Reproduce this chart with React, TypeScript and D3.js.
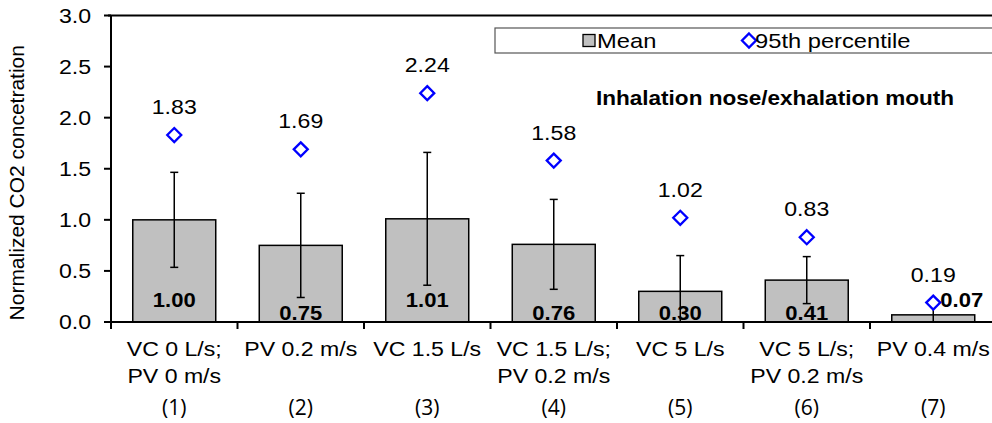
import React from "react";
import * as d3 from "d3";

const categoriesLine1 = ["VC 0 L/s;", "PV 0.2 m/s", "VC 1.5 L/s", "VC 1.5 L/s;", "VC 5 L/s", "VC 5 L/s;", "PV 0.4 m/s"];
const categoriesLine2 = ["PV 0 m/s", "", "", "PV 0.2 m/s", "", "PV 0.2 m/s", ""];
const caseNumbers = ["(1)", "(2)", "(3)", "(4)", "(5)", "(6)", "(7)"];
const meanValues = [1.0, 0.75, 1.01, 0.76, 0.3, 0.41, 0.07];
const errorValues = [0.465, 0.51, 0.65, 0.44, 0.35, 0.23, 0.12];
const p95Values = [1.83, 1.69, 2.24, 1.58, 1.02, 0.83, 0.19];
const yTicks = [0, 0.5, 1.0, 1.5, 2.0, 2.5, 3.0];
const legendLabels = ["Mean", "95th percentile"];
const subtitle = "Inhalation nose/exhalation mouth";
const yTitle = "Normalized CO2 concetration";

const W = 992;
const H = 423;
const FONT = "'Liberation Sans', Arial, sans-serif";
const FS = 21;
const SX = 1.1;

function T(props: any) {
  const { x, y, sx = SX, children, ...rest } = props;
  return (
    <text transform={`translate(${x},${y}) scale(${sx},1)`} {...rest}>
      {children}
    </text>
  );
}

export default function App() {
  const left = 111;
  const top = 15.5;
  const bottom = 322;
  const step = 126.5;
  const n = categoriesLine1.length;
  const x = d3
    .scaleBand<number>()
    .domain(d3.range(n))
    .range([left, left + n * step])
    .paddingInner(0.344)
    .paddingOuter(0.172);
  const y = d3.scaleLinear().domain([0, 3]).range([bottom, top]);
  const bw = x.bandwidth();
  const cx = (i: number) => (x(i) as number) + bw / 2;
  const dsz = 7;
  const diamond = (px: number, py: number) =>
    `M${px},${py - dsz} L${px + dsz},${py} L${px},${py + dsz} L${px - dsz},${py} Z`;

  return (
    <svg width={W} height={H} style={{ position: "absolute", left: 0, top: 0, background: "#fff" }} fontFamily={FONT}>
      <rect x={0} y={0} width={W} height={H} fill="#fff" />
      <defs>
        <clipPath id="plotclip">
          <rect x={left} y={0} width={W} height={bottom - 1} />
        </clipPath>
      </defs>
      {/* legend box */}
      <rect x={495} y={28} width={520} height={25} fill="#fff" stroke="#555" strokeWidth={1.2} />
      <rect x={583} y={34.5} width={12} height={12} fill="#C0C0C0" stroke="#000" strokeWidth={1.3} />
      <T x={597} y={48} fontSize={FS} sx={1.13}>{legendLabels[0]}</T>
      <path d={diamond(749, 40.5)} fill="none" stroke="#0000FF" strokeWidth={2.3} />
      <T x={755} y={48} fontSize={FS} sx={1.13}>{legendLabels[1]}</T>
      <T x={775} y={105} fontSize={20.5} sx={1.1} fontWeight="bold" textAnchor="middle">{subtitle}</T>

      {/* bars */}
      {meanValues.map((v, i) => (
        <rect key={"b" + i} x={x(i)} y={y(v)} width={bw} height={y(0) - y(v)} fill="#C0C0C0" stroke="#000" strokeWidth={1.5} />
      ))}
      {/* mean labels */}
      <g clipPath="url(#plotclip)">
        {meanValues.map((v, i) => {
          const last = i === n - 1;
          const ty = last ? y(0) - 15 : v >= 0.9 ? y(0) - 15 : y(0) - 2;
          return (
            <T
              key={"ml" + i}
              x={last ? cx(i) + 7 : cx(i)}
              y={ty}
              sx={1.05}
              fontSize={FS}
              fontWeight="bold"
              textAnchor={last ? "start" : "middle"}
            >
              {v.toFixed(2)}
            </T>
          );
        })}
      </g>
      {/* error bars */}
      {meanValues.map((v, i) => {
        const hi = v + errorValues[i];
        const lo = Math.max(0, v - errorValues[i]);
        const px = cx(i);
        return (
          <g key={"e" + i} stroke="#000" strokeWidth={1.5}>
            <line x1={px} x2={px} y1={y(hi)} y2={y(lo)} />
            <line x1={px - 4} x2={px + 4} y1={y(hi)} y2={y(hi)} />
            {v - errorValues[i] > 0 && <line x1={px - 4} x2={px + 4} y1={y(lo)} y2={y(lo)} />}
          </g>
        );
      })}
      {/* percentile diamonds */}
      {p95Values.map((v, i) => (
        <g key={"p" + i}>
          <path d={diamond(cx(i), y(v))} fill="#fff" stroke="#0000FF" strokeWidth={2.3} />
          <T x={cx(i)} y={y(v) - 21} fontSize={FS} textAnchor="middle">{v.toFixed(2)}</T>
        </g>
      ))}

      {/* axes */}
      <line x1={left - 3} x2={W} y1={top} y2={top} stroke="#000" strokeWidth={2} />
      <line x1={left} x2={left} y1={top} y2={bottom} stroke="#000" strokeWidth={2} />
      <line x1={left - 7} x2={W} y1={bottom} y2={bottom} stroke="#000" strokeWidth={2} />
      {yTicks.map((t) => (
        <g key={"yt" + t}>
          <line x1={left - 7} x2={left} y1={y(t)} y2={y(t)} stroke="#000" strokeWidth={2} />
          <T x={91} y={y(t) + 7} fontSize={FS} textAnchor="end">{t.toFixed(1)}</T>
        </g>
      ))}
      {d3.range(n + 1).map((i) => (
        <line key={"xt" + i} x1={left + i * step} x2={left + i * step} y1={bottom} y2={bottom + 7} stroke="#000" strokeWidth={2} />
      ))}
      {categoriesLine1.map((c, i) => (
        <g key={"xl" + i}>
          <T x={cx(i)} y={356} fontSize={FS} textAnchor="middle">{c}</T>
          {categoriesLine2[i] && (
            <T x={cx(i)} y={383} fontSize={FS} textAnchor="middle">{categoriesLine2[i]}</T>
          )}
          <T x={cx(i)} y={415} fontSize={21} sx={1.0} textAnchor="middle" fontFamily="'Open Sans', 'Noto Sans', sans-serif">{caseNumbers[i]}</T>
        </g>
      ))}
      <text transform={`translate(24,${(top + bottom) / 2 + 14}) rotate(-90) scale(1.05,1)`} fontSize={20} textAnchor="middle">{yTitle}</text>
    </svg>
  );
}
